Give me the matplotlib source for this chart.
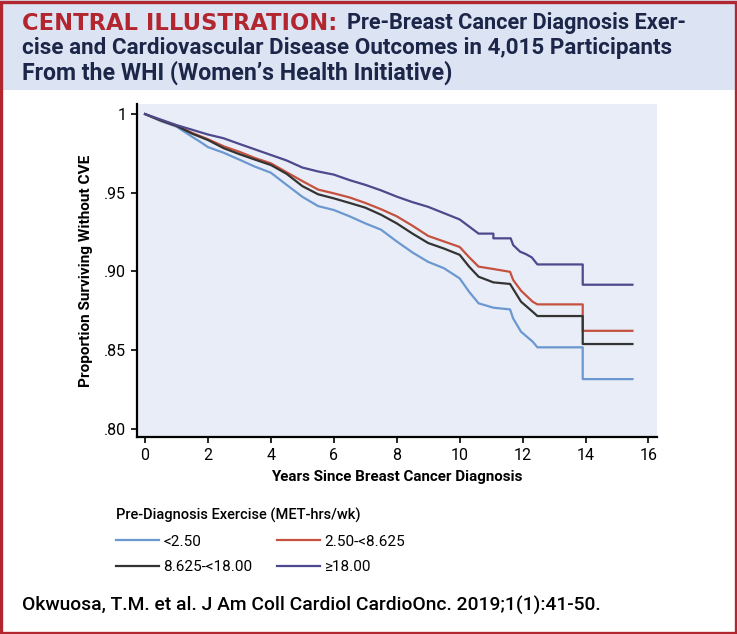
import matplotlib
matplotlib.use("Agg")
import matplotlib.pyplot as plt
from matplotlib.patches import Rectangle

# ---------------- data ----------------
groups = ["<2.50", "2.50-<8.625", "8.625-<18.00", "\u226518.00"]
colors = ["#6B98D0", "#C4523F", "#333333", "#4E488C"]

t_lt250 = [0, 0.5, 1, 1.5, 1.75, 2, 2.5, 3, 3.5, 4, 4.5, 5, 5.5, 6, 6.5, 7, 7.5, 8, 8.5, 9, 9.5, 10,
           10.3, 10.6, 11.07, 11.6, 11.7, 11.95, 12.32, 12.47, 13.91, 13.91, 15.49]
s_lt250 = [1, .9955, .992, .9855, .9824, .979, .9754, .971, .9665, .9627, .955, .9474, .9415, .939, .935,
           .9305, .9265, .919, .912, .906, .902, .8955, .887, .8797, .8769, .8758, .870, .8616, .8553,
           .8517, .8517, .8315, .8315]

t_250_8625 = [0, 0.5, 1, 1.5, 2, 2.5, 3, 3.5, 4, 4.5, 5, 5.5, 6, 6.5, 7, 7.5, 8, 8.5, 9, 9.5, 10,
              10.3, 10.6, 11.07, 11.6, 11.7, 11.95, 12.32, 12.47, 13.91, 13.91, 15.49]
s_250_8625 = [1, .996, .9925, .988, .984, .9795, .976, .972, .9687, .963, .9574, .952, .9496, .947, .9435,
              .9395, .935, .929, .9225, .919, .9155, .909, .903, .9015, .8997, .8945, .8877, .8807,
              .879, .879, .8622, .8622]

t_8625_18 = [0, 0.5, 1, 1.5, 2, 2.5, 3, 3.5, 4, 4.5, 5, 5.5, 6, 6.5, 7, 7.5, 8, 8.5, 9, 9.5, 10,
             10.3, 10.6, 11.07, 11.6, 11.95, 12.32, 12.47, 13.91, 13.91, 15.49]
s_8625_18 = [1, .996, .9925, .9875, .9835, .9783, .9745, .971, .9676, .962, .9542, .949, .9464, .9435,
             .9405, .936, .9305, .924, .918, .9145, .9105, .903, .8966, .893, .892, .8807, .8743,
             .8716, .8716, .8538, .8538]

t_ge18 = [0, 0.5, 1, 1.5, 2, 2.5, 3, 3.5, 4, 4.5, 5, 5.5, 6, 6.5, 7, 7.5, 8, 8.5, 9, 9.5, 10,
          10.3, 10.6, 11.07, 11.07, 11.62, 11.7, 11.92, 12.1, 12.29, 12.47, 13.91, 13.91, 15.49]
s_ge18 = [1, .9965, .993, .990, .987, .9846, .981, .9775, .974, .9705, .966, .9635, .9615, .958, .955,
          .9515, .9475, .944, .941, .937, .933, .9285, .924, .924, .921, .921, .9167, .9125, .911,
          .9089, .9044, .9044, .8915, .8915]

series_t = [t_lt250, t_250_8625, t_8625_18, t_ge18]
series_s = [s_lt250, s_250_8625, s_8625_18, s_ge18]

x_ticks = [0, 2, 4, 6, 8, 10, 12, 14, 16]
y_ticks = [0.80, 0.85, 0.90, 0.95, 1.0]
y_tick_labels = [".80", ".85", ".90", ".95", "1"]

plt.rcParams["font.family"] = ["Roboto", "DejaVu Sans"]

W, H = 737, 634
fig = plt.figure(figsize=(W / 100, H / 100), dpi=100)

navy = "#1B2648"
red = "#B2272F"

fig.patches.append(Rectangle((0, 1 - 90 / H), 1, 90 / H, transform=fig.transFigure,
                             facecolor="#DCE3F3", edgecolor="none", zorder=0))
fig.patches.append(Rectangle((1.5 / W, 1.5 / H), 1 - 3 / W, 1 - 3 / H, transform=fig.transFigure,
                             facecolor="none", edgecolor=red, linewidth=2.4, zorder=10))

renderer = fig.canvas.get_renderer()


def fit_text(x, y, s, target_w, size, **kw):
    txt = fig.text(x / W, 1 - y / H, s, fontsize=size, va="center", ha="left", **kw)
    bb = txt.get_window_extent(renderer=renderer)
    txt.set_fontsize(size * target_w / bb.width)
    return txt


def fit_label(lbl, target_w):
    bb = lbl.get_window_extent(renderer=renderer)
    w = max(bb.width, bb.height)
    lbl.set_fontsize(lbl.get_fontsize() * target_w / w)


fit_text(22, 23, "CENTRAL ILLUSTRATION:", 315, 14, color=red, fontweight="bold",
         family=["DejaVu Sans"])
fit_text(347, 23, "Pre-Breast Cancer Diagnosis Exer-", 341, 14, color=navy, fontweight="bold")
fit_text(22, 48, "cise and Cardiovascular Disease Outcomes in 4,015 Participants", 651, 14,
         color=navy, fontweight="bold")
fit_text(22, 73, "From the WHI (Women\u2019s Health Initiative)", 433, 14, color=navy, fontweight="bold")

fit_text(22, 605, "Okwuosa, T.M. et al. J Am Coll Cardiol CardioOnc. 2019;1(1):41-50.", 579, 13,
         color="black", fontweight="medium")

# ---------------- axes ----------------
ax = fig.add_axes([136.7 / W, 1 - 437.3 / H, (657.3 - 136.7) / W, (437.3 - 104) / H])
ax.set_facecolor("#E9EDF7")
lines = []
for t, s, c, g in zip(series_t, series_s, colors, groups):
    ln, = ax.plot(t, s, color=c, linewidth=1.6, label=g)
    lines.append(ln)

ax.set_xlim(-0.265, 16.28)
ax.set_ylim(0.7945, 1.0064)
ax.set_xticks(x_ticks)
ax.set_xticklabels([str(v) for v in x_ticks])
ax.set_yticks(y_ticks)
ax.set_yticklabels(y_tick_labels)
for sp in ["top", "right"]:
    ax.spines[sp].set_visible(False)
for sp in ["left", "bottom"]:
    ax.spines[sp].set_linewidth(1.6)
    ax.spines[sp].set_color("black")
ax.tick_params(axis="both", direction="out", length=4.5, width=1.2, labelsize=11.5, pad=3)
xl = ax.set_xlabel("Years Since Breast Cancer Diagnosis", fontsize=11, fontweight="bold", labelpad=5)
yl = ax.set_ylabel("Proportion Surviving Without CVE", fontsize=11, fontweight="bold", labelpad=8)
fit_label(xl, 252)
fit_label(yl, 232)

order = [0, 2, 1, 3]
leg = ax.legend([lines[i] for i in order], [groups[i] for i in order], ncol=2,
                title="Pre-Diagnosis Exercise (MET-hrs/wk)", title_fontsize=10.5, fontsize=11,
                frameon=False, loc="upper left", bbox_to_anchor=(110 / W, 1 - 502 / H),
                bbox_transform=fig.transFigure, handlelength=2.8, handletextpad=0.3,
                columnspacing=1.6, alignment="left", labelspacing=0.75, borderaxespad=0)
leg.get_title().set_fontweight("medium")

fig.savefig("out.png", dpi=100)
